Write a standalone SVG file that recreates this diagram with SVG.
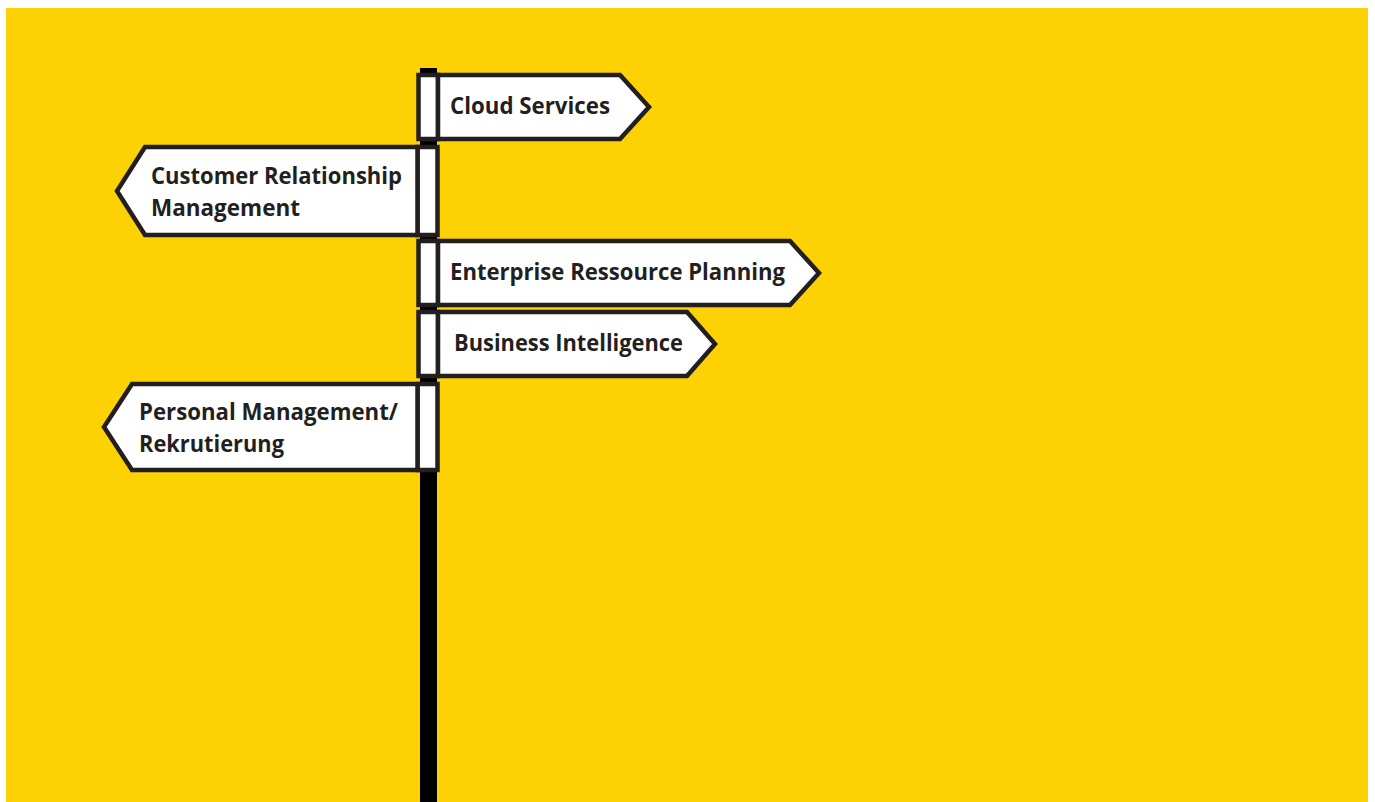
<svg xmlns="http://www.w3.org/2000/svg" width="1375" height="802" viewBox="0 0 1375 802">
<style>
.sign{fill:#fff;stroke:#231f20;stroke-width:4.5;stroke-linejoin:miter}
.lbl{font-family:"Open Sans","Liberation Sans",sans-serif;font-weight:bold;font-size:23px;fill:#231f20}
</style>
<rect x="0" y="0" width="1375" height="802" fill="#fff"/>
<rect x="6" y="8" width="1362" height="794" fill="#fcd205"/>
<rect id="pole" x="420" y="68" width="17" height="734" fill="#000"/>
<g id="cloud">
<rect class="sign" x="418.5" y="75" width="19.5" height="64"/>
<polygon class="sign" points="438,75 620,75 649,107 620,139 438,139"/>
<text class="lbl" x="450" y="114" textLength="160" lengthAdjust="spacingAndGlyphs">Cloud Services</text>
</g>
<g id="crm">
<rect class="sign" x="417.5" y="147" width="20" height="88"/>
<polygon class="sign" points="417.5,147 145,147 117,191 145,235 417.5,235"/>
<text class="lbl" x="151" y="184" textLength="251" lengthAdjust="spacingAndGlyphs">Customer Relationship</text>
<text class="lbl" x="151" y="216" textLength="149" lengthAdjust="spacingAndGlyphs">Management</text>
</g>
<g id="erp">
<rect class="sign" x="418.5" y="241" width="19.5" height="64"/>
<polygon class="sign" points="438,241 790,241 819,273 790,305 438,305"/>
<text class="lbl" x="450" y="280" textLength="335" lengthAdjust="spacingAndGlyphs">Enterprise Ressource Planning</text>
</g>
<g id="bi">
<rect class="sign" x="418.5" y="312" width="19.5" height="64"/>
<polygon class="sign" points="438,312 687,312 715,344 687,376 438,376"/>
<text class="lbl" x="454" y="351" textLength="229" lengthAdjust="spacingAndGlyphs">Business Intelligence</text>
</g>
<g id="personal">
<rect class="sign" x="417.5" y="384" width="20" height="86"/>
<polygon class="sign" points="417.5,384 132,384 104,427 132,470 417.5,470"/>
<text class="lbl" x="139" y="420" textLength="259" lengthAdjust="spacingAndGlyphs">Personal Management/</text>
<text class="lbl" x="139" y="452" textLength="145" lengthAdjust="spacingAndGlyphs">Rekrutierung</text>
</g>
<g id="connectors"></g>
</svg>
